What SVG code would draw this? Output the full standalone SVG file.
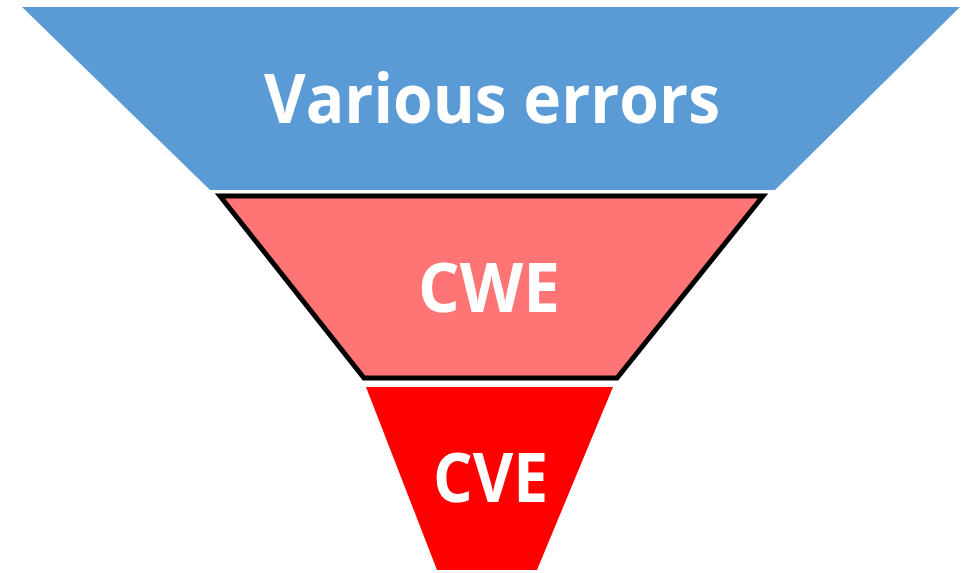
<svg xmlns="http://www.w3.org/2000/svg" width="969" height="573" viewBox="0 0 969 573">
<style>
.lbl{font-family:"Open Sans","Liberation Sans",sans-serif;font-weight:700;fill:#ffffff;font-size:68px}
</style>
<rect width="969" height="573" fill="#ffffff"/>
<g id="various">
<polygon points="22,7 960,7 775,190 210,190" fill="#5B9BD5"/>
<text class="lbl" x="264" y="123" textLength="456" lengthAdjust="spacingAndGlyphs">Various errors</text>
</g>
<g id="cwe">
<polygon points="220,196 763,196 617,378 364,378" fill="#FF7575" stroke="#000000" stroke-width="5" stroke-linejoin="miter"/>
<text class="lbl" x="418" y="312" textLength="142" lengthAdjust="spacingAndGlyphs">CWE</text>
</g>
<g id="cve">
<polygon points="366,387 613,387 537,570 437,570" fill="#FF0000"/>
<text class="lbl" x="433" y="502" textLength="115" lengthAdjust="spacingAndGlyphs">CVE</text>
</g>
<g id="connectors"></g>
</svg>
